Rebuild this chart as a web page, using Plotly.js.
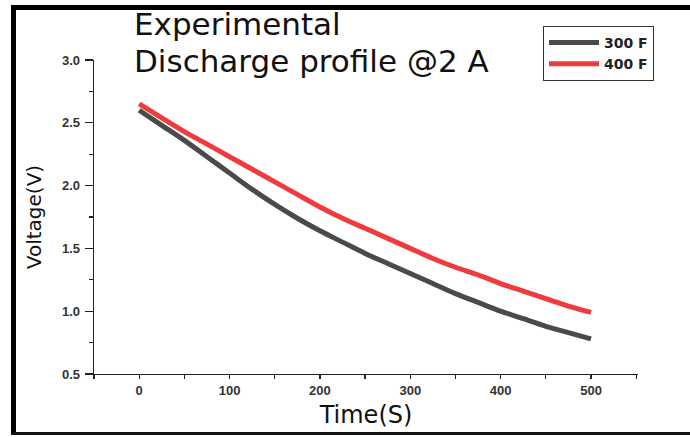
<!DOCTYPE html>
<html>
<head>
<meta charset="utf-8">
<script src="https://cdn.plot.ly/plotly-3.0.1.min.js"></script>
<style>
html,body{margin:0;padding:0;background:#fff;}
#chart{width:690px;height:437px;}
</style>
</head>
<body>
<div id="chart"></div>
<script>
// Data
const time300 = [0, 25, 50, 75, 100, 125, 150, 175, 200, 225, 250, 275, 300, 325, 350, 375, 400, 425, 450, 475, 500];
const volt300 = [2.60, 2.48, 2.36, 2.23, 2.10, 1.97, 1.85, 1.74, 1.64, 1.55, 1.46, 1.38, 1.30, 1.22, 1.14, 1.07, 1.00, 0.94, 0.88, 0.83, 0.78];
const time400 = [0, 25, 50, 75, 100, 125, 150, 175, 200, 225, 250, 275, 300, 325, 350, 375, 400, 425, 450, 475, 500];
const volt400 = [2.65, 2.54, 2.43, 2.33, 2.23, 2.13, 2.03, 1.93, 1.83, 1.74, 1.66, 1.58, 1.50, 1.42, 1.35, 1.29, 1.22, 1.16, 1.10, 1.04, 0.99];
const seriesNames = ["300 F", "400 F"];
const xTickVals = [0, 100, 200, 300, 400, 500];
const yTickVals = [0.5, 1.0, 1.5, 2.0, 2.5, 3.0];
const yTickText = ["0.5", "1.0", "1.5", "2.0", "2.5", "3.0"];
const titleLine1 = "Experimental";
const titleLine2 = "Discharge profile @2 A";

// layout geometry (pixels)
const W = 690, H = 437;
const M = {l: 94, r: 52, t: 60, b: 63};
const PW = W - M.l - M.r, PH = H - M.t - M.b;
const px = x => (x - M.l) / PW;
const py = y => (H - M.b - y) / PH;

const traces = [
  {x: time300, y: volt300, name: seriesNames[0], type: 'scatter', mode: 'lines',
   line: {color: '#4a4a4a', width: 5, shape: 'spline', smoothing: 0.8}},
  {x: time400, y: volt400, name: seriesNames[1], type: 'scatter', mode: 'lines',
   line: {color: '#ef3b3d', width: 5, shape: 'spline', smoothing: 0.8}}
];

const tickFont = {family: 'Arial, Liberation Sans, sans-serif', size: 13, color: '#333', weight: 'bold'};

const layout = {
  width: W, height: H,
  margin: M,
  paper_bgcolor: '#fff', plot_bgcolor: '#fff',
  showlegend: true,
  legend: {
    x: px(543), y: py(26), xanchor: 'left', yanchor: 'top',
    bordercolor: '#333', borderwidth: 1, bgcolor: '#fff',
    font: {family: 'DejaVu Sans, sans-serif', size: 14, color: '#222', weight: 'bold'},
    itemwidth: 50, tracegroupgap: 0
  },
  xaxis: {
    range: [-50, 552],
    tickvals: xTickVals,
    ticks: 'outside', ticklen: 4, tickwidth: 1.3, tickcolor: '#222',
    minor: {dtick: 50, tick0: 0, ticks: 'outside', ticklen: 4, tickwidth: 1.3, tickcolor: '#222', showgrid: false},
    showline: true, linecolor: '#222', linewidth: 1.3,
    showgrid: false, zeroline: false,
    tickfont: tickFont,
    title: {text: 'Time(S)', font: {family: 'DejaVu Sans, sans-serif', size: 24, color: '#111'}, standoff: 9}
  },
  yaxis: {
    range: [0.5, 3.0],
    tickvals: yTickVals, ticktext: yTickText,
    ticks: 'outside', ticklen: 8, tickwidth: 1.3, tickcolor: '#222',
    minor: {dtick: 0.25, tick0: 0.5, ticks: 'outside', ticklen: 4, tickwidth: 1.3, tickcolor: '#222', showgrid: false},
    showline: true, linecolor: '#222', linewidth: 1.3,
    showgrid: false, zeroline: false,
    tickfont: tickFont, ticklabelstandoff: 2,
    title: {text: 'Voltage(V)', font: {family: 'DejaVu Sans, sans-serif', size: 20, color: '#111'}, standoff: 15}
  },
  annotations: [
    {text: titleLine1, xref: 'paper', yref: 'paper', x: px(133), y: py(24), xanchor: 'left', yanchor: 'middle',
     showarrow: false, borderpad: 0, font: {family: 'DejaVu Sans, sans-serif', size: 31, color: '#111'}},
    {text: titleLine2, xref: 'paper', yref: 'paper', x: px(133), y: py(61), xanchor: 'left', yanchor: 'middle',
     showarrow: false, borderpad: 0, font: {family: 'DejaVu Sans, sans-serif', size: 31, color: '#111'}}
  ],
  shapes: [
    {type: 'rect', xref: 'paper', yref: 'paper', x0: px(11), x1: px(16), y0: py(435), y1: py(5), fillcolor: '#000', line: {width: 0}, layer: 'above'},
    {type: 'rect', xref: 'paper', yref: 'paper', x0: px(11), x1: px(690), y0: py(10), y1: py(5), fillcolor: '#000', line: {width: 0}, layer: 'above'},
    {type: 'rect', xref: 'paper', yref: 'paper', x0: px(11), x1: px(690), y0: py(435), y1: py(432), fillcolor: '#111', line: {width: 0}, layer: 'above'}
  ]
};

Plotly.newPlot('chart', traces, layout, {displayModeBar: false, staticPlot: true});
</script>
</body>
</html>
